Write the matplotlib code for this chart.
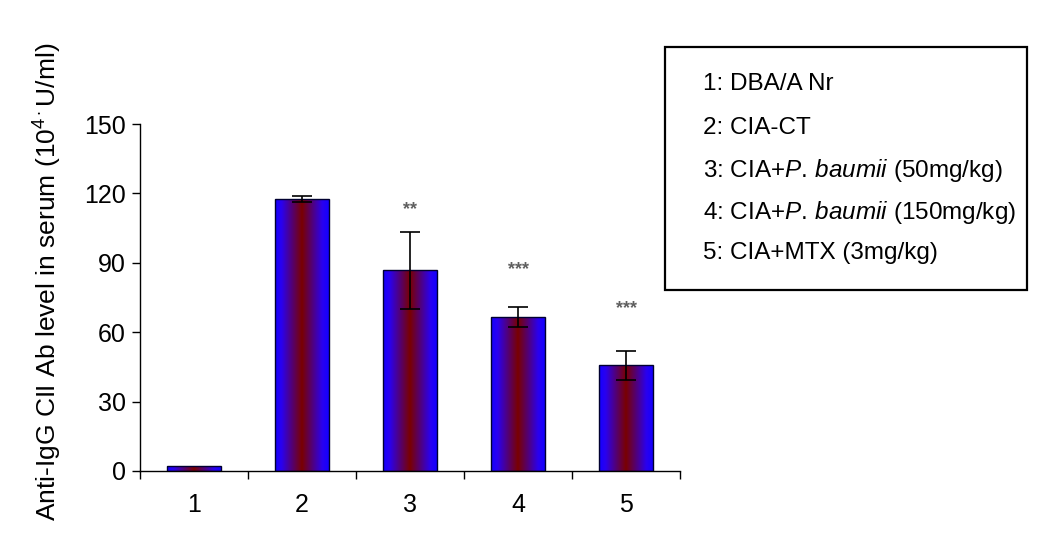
import numpy as np
import matplotlib
matplotlib.use("Agg")
import matplotlib.pyplot as plt
from matplotlib.colors import LinearSegmentedColormap

plt.rcParams['font.family'] = ['Liberation Sans', 'DejaVu Sans']
plt.rcParams['mathtext.fontset'] = 'custom'
plt.rcParams['mathtext.rm'] = 'Liberation Sans'
plt.rcParams['mathtext.it'] = 'Liberation Sans:italic'

# ---- data ----
groups = ["1", "2", "3", "4", "5"]
values = [2.2, 117.5, 86.8, 66.6, 45.7]
errors = [0.0, 1.4, 16.7, 4.4, 6.2]
stars = ["", "", "**", "***", "***"]
star_y = [None, None, 113, 87, 70]
legend_lines = [
    "1: DBA/A Nr",
    "2: CIA-CT",
    r"3: CIA+$\mathit{P.\,baumii}$ (50mg/kg)",
    r"4: CIA+$\mathit{P.\,baumii}$ (150mg/kg)",
    "5: CIA+MTX (3mg/kg)",
]
yticks = [0, 30, 60, 90, 120, 150]

fig = plt.figure(figsize=(10.46, 5.37), dpi=100)
ax = fig.add_axes([140/1046, 1-471/537, 540/1046, 347/537])

x = np.arange(len(groups))
bars = ax.bar(x, values, width=0.5, color='none', edgecolor='#000030', linewidth=1.0, zorder=3)

cmap = LinearSegmentedColormap.from_list(
    'g', [(0.0, '#1400ff'), (0.12, '#2a00f0'), (0.5, '#7a0000'),
          (0.88, '#2a00f0'), (1.0, '#1400ff')])
grad = np.linspace(0, 1, 256).reshape(1, -1)
for b in bars:
    bx, by = b.get_x(), b.get_y()
    w, h = b.get_width(), b.get_height()
    im = ax.imshow(grad, cmap=cmap, extent=[bx, bx + w, by, by + h],
                   aspect='auto', zorder=2, interpolation='bilinear')
    im.set_clip_path(b)

errs_idx = [i for i, e in enumerate(errors) if e > 0]
ax.errorbar([x[i] for i in errs_idx], [values[i] for i in errs_idx],
            yerr=[errors[i] for i in errs_idx], fmt='none', ecolor='black',
            elinewidth=1.2, capsize=7, capthick=1.2, zorder=4)

for i, s in enumerate(stars):
    if s:
        ax.text(x[i], star_y[i], s, ha='center', va='center', fontsize=13,
                color='#606060', fontweight='bold')

ax.set_xlim(-0.5, len(groups) - 0.5)
ax.set_ylim(0, 150)
ax.set_yticks(yticks)
ax.set_yticklabels([str(t) for t in yticks], fontsize=18)
ax.set_xticks(np.arange(len(groups) + 1) - 0.5)
ax.set_xticklabels([])
ax.set_xticks(x, minor=True)
ax.set_xticklabels(groups, minor=True, fontsize=18)
ax.tick_params(axis='x', which='major', length=6, direction='out', width=1)
ax.tick_params(axis='x', which='minor', length=0, pad=16)
ax.tick_params(axis='y', length=6, direction='out', width=1, pad=4)
for sp in ['top', 'right']:
    ax.spines[sp].set_visible(False)
ax.spines['left'].set_linewidth(1)
ax.spines['bottom'].set_linewidth(1)
ax.set_ylabel(r"Anti-IgG CII Ab level in serum (10$^{4\cdot}$U/ml)", fontsize=19)
ax.yaxis.set_label_coords(-0.141, 0.545)

# legend box
box = plt.Rectangle((665/1046, 1-290/537), 362/1046, 243/537, transform=fig.transFigure,
                    fill=False, edgecolor='black', linewidth=1.6)
fig.add_artist(box)
ly = [84, 128, 170, 212, 253]
for t, yy in zip(legend_lines, ly):
    fig.text(703/1046, 1 - yy/537, t, fontsize=17.5, ha='left', va='center')

fig.savefig("out.png", dpi=100)
